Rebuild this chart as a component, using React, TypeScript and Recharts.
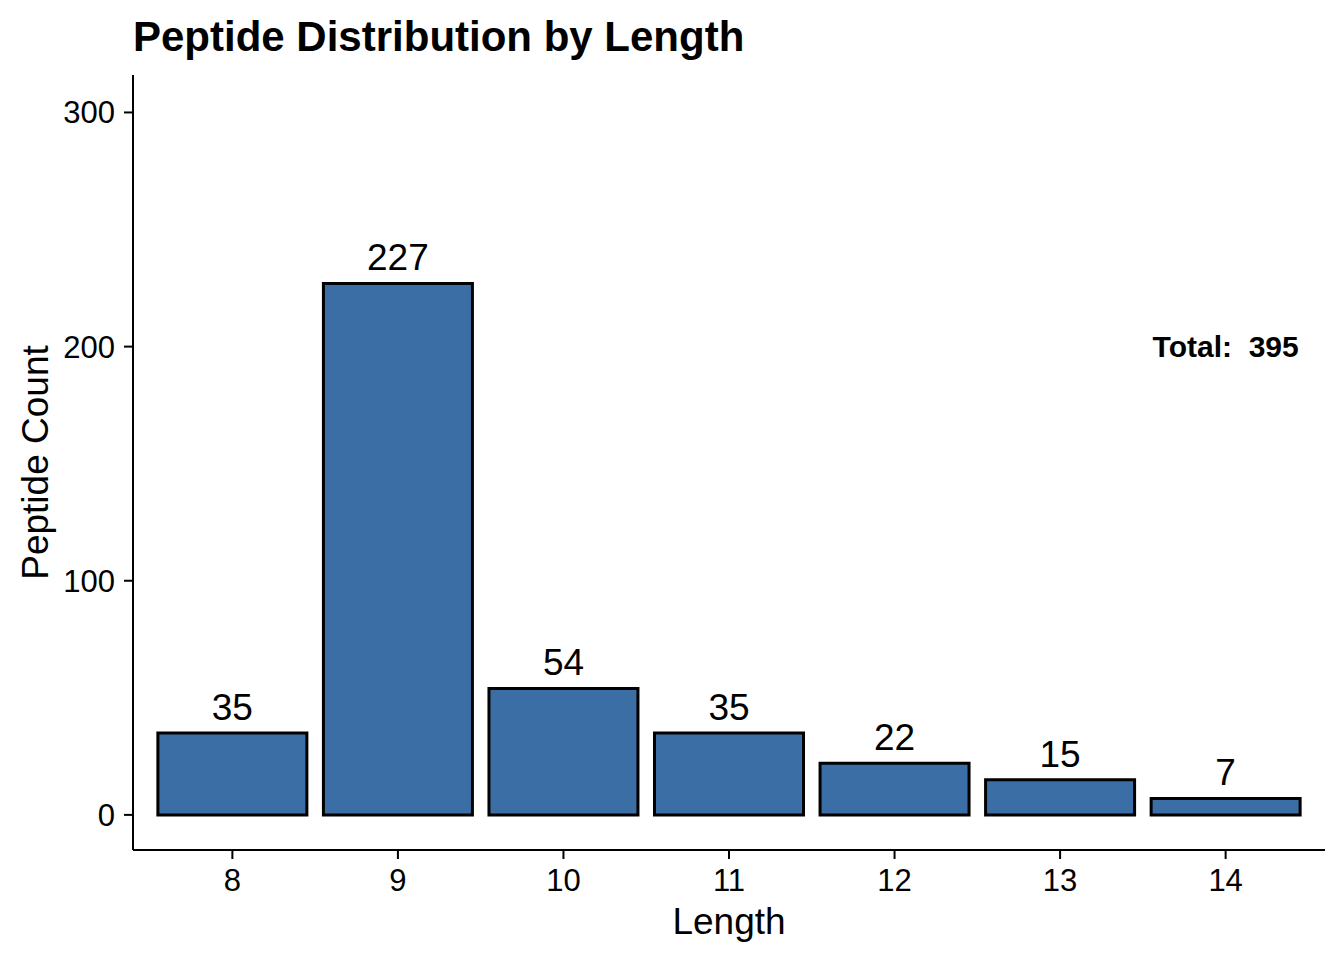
import { BarChart, Bar, XAxis, YAxis, LabelList, ReferenceDot } from 'recharts'

const lengths = ['8', '9', '10', '11', '12', '13', '14']
const counts = [35, 227, 54, 35, 22, 15, 7]
const yTicks = [0, 100, 200, 300]
const total = 395

const data = lengths.map((len, i) => ({ len, count: counts[i] }))

const font = '"Liberation Sans", Arial, Helvetica, sans-serif'

export default function App() {
  return (
    <div style={{ position: 'absolute', left: 0, top: 0, width: 1344, height: 960, background: '#fff', fontFamily: font }}>
      <div
        style={{
          position: 'absolute',
          left: 133,
          top: 16,
          fontSize: 42,
          fontWeight: 'bold',
          color: '#000',
          lineHeight: '42px',
          whiteSpace: 'nowrap',
        }}
      >
        Peptide Distribution by Length
      </div>
      <BarChart
        width={1344}
        height={960}
        data={data}
        margin={{ top: 75, right: 19, left: 0, bottom: 0 }}
        barCategoryGap="5%"
        style={{ fontFamily: font }}
      >
        <XAxis
          dataKey="len"
          height={110}
          padding={{ left: 16.6, right: 16.6 }}
          axisLine={{ stroke: '#000', strokeWidth: 2 }}
          tickLine={{ stroke: '#000', strokeWidth: 2 }}
          tickSize={9}
          tickMargin={10}
          tick={{ fill: '#000', fontSize: 31 }}
          label={{ value: 'Length', position: 'insideBottom', offset: 26, fill: '#000', fontSize: 37 }}
        />
        <YAxis
          width={133}
          domain={[-15, 316]}
          ticks={yTicks}
          allowDataOverflow
          axisLine={{ stroke: '#000', strokeWidth: 2 }}
          tickLine={{ stroke: '#000', strokeWidth: 2 }}
          tickSize={9}
          tickMargin={9}
          tick={{ fill: '#000', fontSize: 31 }}
          label={{ value: 'Peptide Count', angle: -90, position: 'insideLeft', offset: 35, fill: '#000', fontSize: 37, style: { textAnchor: 'middle' } }}
        />
        <Bar dataKey="count" fill="#3A6EA5" stroke="#000" strokeWidth={3} isAnimationActive={false}>
          <LabelList dataKey="count" position="top" offset={13} fill="#000" fontSize={37} />
        </Bar>
        <ReferenceDot
          x="14"
          y={200}
          r={0}
          fill="none"
          stroke="none"
          label={{ value: `Total:\u00a0\u00a0${total}`, position: 'center', fill: '#000', fontSize: 30, fontWeight: 'bold' }}
        />
      </BarChart>
    </div>
  )
}
